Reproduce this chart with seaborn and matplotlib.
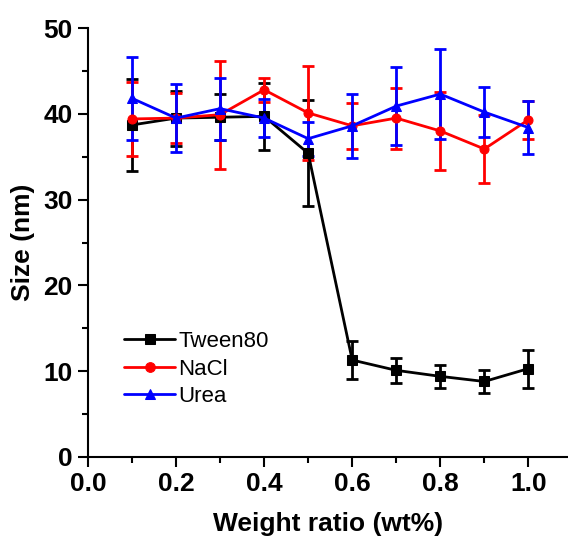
import numpy as np
import pandas as pd
import matplotlib
matplotlib.use("Agg")
import matplotlib.pyplot as plt
from matplotlib.ticker import MultipleLocator
import seaborn as sns

# Weight ratio (wt%)
ratio = [0.1, 0.2, 0.3, 0.4, 0.5, 0.6, 0.7, 0.8, 0.9, 1.0]

# Particle size (nm) and standard deviations
tween80 = [38.7, 39.5, 39.6, 39.7, 35.4, 11.3, 10.1, 9.4, 8.8, 10.3]
tween80_err = [5.4, 3.2, 2.7, 3.9, 6.2, 2.2, 1.45, 1.35, 1.35, 2.2]

nacl = [39.4, 39.5, 39.9, 42.8, 40.1, 38.6, 39.5, 38.0, 35.9, 39.3]
nacl_err = [4.3, 2.9, 6.3, 1.4, 5.5, 2.65, 3.55, 4.5, 4.0, 2.2]

urea = [41.8, 39.5, 40.6, 39.5, 37.1, 38.6, 40.9, 42.3, 40.2, 38.4]
urea_err = [4.8, 4.0, 3.6, 2.2, 2.0, 3.7, 4.55, 5.2, 2.9, 3.1]

samples = ["Tween80", "NaCl", "Urea"]
colors = {"Tween80": "#000000", "NaCl": "#ff0000", "Urea": "#0000ff"}
markers = {"Tween80": "s", "NaCl": "o", "Urea": "^"}

values = {"Tween80": (tween80, tween80_err),
          "NaCl": (nacl, nacl_err),
          "Urea": (urea, urea_err)}

df = pd.concat([
    pd.DataFrame({"ratio": ratio, "size": values[s][0], "err": values[s][1], "sample": s})
    for s in samples
], ignore_index=True)

sns.set_style("ticks")
plt.rcParams["font.family"] = ["Liberation Sans", "DejaVu Sans"]
plt.rcParams["text.color"] = "black"
plt.rcParams["axes.labelcolor"] = "black"
plt.rcParams["xtick.color"] = "black"
plt.rcParams["ytick.color"] = "black"

fig = plt.figure(figsize=(5.68, 5.42), dpi=100)
ax = fig.add_axes([88 / 568, 85 / 542, 480 / 568, 429 / 542])

# Error bars drawn under the lines, one sample at a time
for i, s in enumerate(samples):
    sub = df[df["sample"] == s]
    eb = ax.errorbar(sub["ratio"].to_numpy(), sub["size"].to_numpy(),
                     yerr=sub["err"].to_numpy(), fmt="none",
                     ecolor=colors[s], color=colors[s], elinewidth=2.0,
                     capsize=4, capthick=2.0, zorder=2 + i)
    for cap in eb[1]:
        cap.set_color(colors[s])
        cap.set_markeredgecolor(colors[s])

sns.lineplot(data=df, x="ratio", y="size", hue="sample", style="sample",
             hue_order=samples, style_order=samples,
             palette=colors, markers=markers, dashes=False,
             linewidth=2.0, markersize=6.5, ax=ax, zorder=5)

for line in ax.lines:
    if line.get_marker() not in (None, "None", "", "_"):
        line.set_markeredgecolor(line.get_color())

ax.set_xlim(0, 1.09)
ax.set_ylim(0, 50)
ax.xaxis.set_minor_locator(MultipleLocator(0.1))
ax.yaxis.set_major_locator(MultipleLocator(10))
ax.yaxis.set_minor_locator(MultipleLocator(5))
xt = np.round(np.arange(0, 1.01, 0.2), 1)
ax.set_xticks(xt)
ax.set_xticklabels([f"{v:.1f}" for v in xt])

ax.tick_params(which="major", direction="out", length=7, width=1.5,
               labelsize=19, pad=4, colors="black")
ax.tick_params(which="minor", direction="out", length=4.5, width=1.5,
               colors="black")
for lab in ax.get_xticklabels() + ax.get_yticklabels():
    lab.set_fontweight("bold")

sns.despine(ax=ax)
for sp in ("left", "bottom"):
    ax.spines[sp].set_linewidth(1.5)
    ax.spines[sp].set_color("black")

ax.set_xlabel("Weight ratio (wt%)", fontsize=19, fontweight="bold", labelpad=11)
ax.set_ylabel("Size (nm)", fontsize=19, fontweight="bold", labelpad=6)

sns.move_legend(ax, loc="center left", bbox_to_anchor=(0.075, 0.205),
                frameon=False, title=None, fontsize=16, handlelength=2.3,
                handletextpad=0.15, labelspacing=0.3, borderpad=0,
                borderaxespad=0)
leg = ax.get_legend()
for t in leg.get_texts():
    t.set_color("black")
for h in leg.legend_handles:
    h.set_markersize(7)
    h.set_linewidth(2.0)
    h.set_markeredgecolor(h.get_color())

fig.savefig("out.png", dpi=100, facecolor="white")
